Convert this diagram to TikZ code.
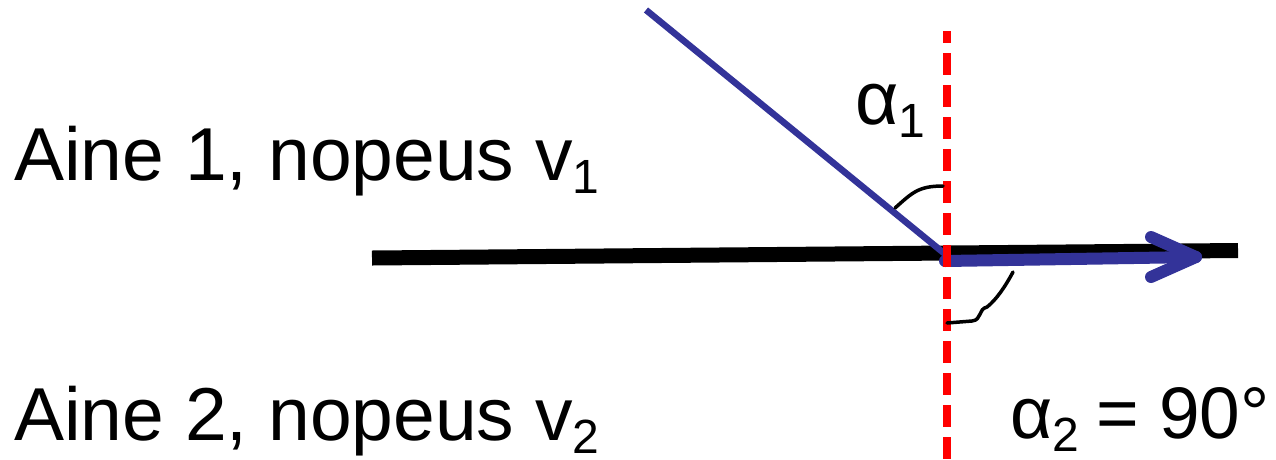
\documentclass[tikz,border=0pt]{standalone}
\usepackage{fontspec}
\setmainfont{Liberation Sans}
\definecolor{rayblue}{HTML}{333399}
\definecolor{normred}{HTML}{FF0000}
\newcommand\mysub[1]{\raisebox{-13pt}{\fontsize{48}{48}\selectfont #1}}
\begin{document}
\begin{tikzpicture}[x=1pt,y=-1pt,
  lbl/.style={anchor=base west, inner sep=0pt, font=\fontsize{75}{84}\selectfont},
  surface/.style={line width=15pt, black},
  ray/.style={line width=6.5pt, rayblue},
  refr/.style={line width=12pt, rayblue, line cap=round, line join=round},
  normal/.style={line width=8pt, normred, dash pattern=on 22pt off 10pt, dash phase=10pt},
  anglemark/.style={line width=3.5pt, black, line cap=round}]
\useasboundingbox (0,0) rectangle (1276,459);
% coordinates
\coordinate (sL) at (372,258);
\coordinate (sR) at (1238,250.5);
\coordinate (O) at (945,254);
\coordinate (rayStart) at (646,10);
\coordinate (aStart) at (945,261);
\coordinate (aTip) at (1196,257);
\coordinate (aUp) at (1151,237);
\coordinate (aDn) at (1151,277);
\coordinate (nTop) at (947,31);
\coordinate (nBot) at (947,462);
% surface
\draw[surface] (sL) -- (sR);
% incident ray
\draw[ray] (rayStart) -- (O);
% refracted ray along surface
\draw[refr] (aStart) -- (aTip);
\draw[refr] (aUp) -- (aTip) -- (aDn);
% normal
\draw[normal] (nTop) -- (nBot);
% angle marks
\coordinate (m1a) at (895,208);
\coordinate (m1b) at (943,186);
\draw[anglemark] (m1a) .. controls (912,193) and (918,186) .. (m1b);
\coordinate (m2a) at (1013,272);
\coordinate (m2m) at (987,307);
\coordinate (m2b) at (947,323);
\draw[anglemark] (m2a) .. controls (1005,287) and (996,300) .. (m2m)
  .. controls (978,309) and (982,320) .. (972,321) -- (m2b);
% labels
\node[lbl] (t1) at (14,180) {Aine 1, nopeus v\mysub{1}};
\node[lbl] (t2) at (14,440) {Aine 2, nopeus v\mysub{2}};
\node[lbl] (a1) at (855,124) {α\mysub{1}};
\node[lbl, font=\fontsize{73}{82}\selectfont] (a2) at (1010,438) {α\mysub{2}\hspace{-3pt} = 90°};
\end{tikzpicture}
\end{document}
